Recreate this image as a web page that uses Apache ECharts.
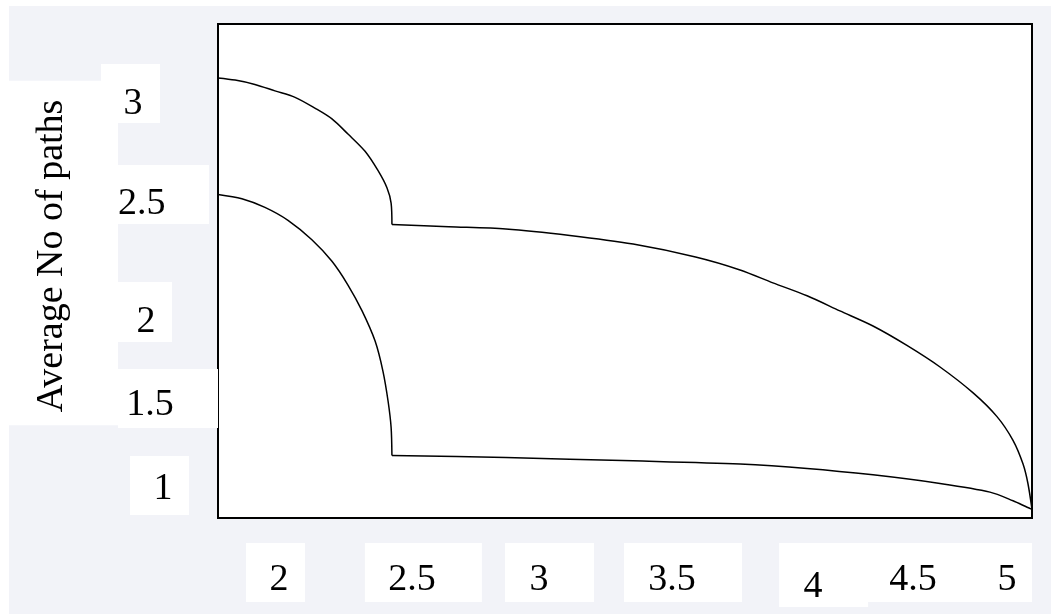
<!DOCTYPE html>
<html>
<head>
<meta charset="utf-8">
<title>Average No of paths</title>
<script src="https://cdn.jsdelivr.net/npm/echarts@6/dist/echarts.min.js"></script>
<style>
  html, body { margin: 0; padding: 0; background: #fff; }
  #chart {
    width: 1051px; height: 614px;
    background: linear-gradient(#f2f3f8, #f2f3f8) 9px 6px / 100% 100% no-repeat, #fff;
  }
</style>
</head>
<body>
<div id="chart"></div>
<script>
// upper curve: steep arc, then the slow tail
var upperArcX = [2.000, 2.063, 2.136, 2.210, 2.284, 2.357, 2.420, 2.479, 2.542, 2.590, 2.623, 2.638, 2.641];
var upperArcY = [3.00, 2.99, 2.97, 2.94, 2.91, 2.86, 2.81, 2.74, 2.66, 2.57, 2.49, 2.42, 2.32];
var upperTailX = [2.641, 2.850, 3.061, 3.297, 3.530, 3.760, 3.924, 4.045, 4.171, 4.292, 4.414, 4.539, 4.661, 4.783, 4.871, 4.930, 4.967, 4.985, 5.000];
var upperTailY = [2.32, 2.31, 2.30, 2.27, 2.23, 2.17, 2.11, 2.05, 1.99, 1.92, 1.85, 1.76, 1.66, 1.54, 1.43, 1.32, 1.21, 1.12, 1.00];
// lower curve
var lowerArcX = [2.000, 2.088, 2.173, 2.258, 2.346, 2.420, 2.479, 2.531, 2.579, 2.608, 2.627, 2.638, 2.641];
var lowerArcY = [2.46, 2.44, 2.40, 2.34, 2.25, 2.15, 2.04, 1.92, 1.78, 1.64, 1.50, 1.38, 1.25];
var lowerTailX = [2.641, 3.061, 3.530, 3.924, 4.171, 4.414, 4.661, 4.845, 4.930, 4.982, 5.000];
var lowerTailY = [1.25, 1.24, 1.225, 1.21, 1.19, 1.16, 1.12, 1.08, 1.04, 1.01, 1.00];

// tick labels, and where the picture puts them on each axis
var xTickLabels = ['2', '2.5', '3', '3.5', '4', '4.5', '5'];
var xTickAt = [2.212, 2.757, 3.222, 3.714, 4.232, 4.569, 4.871];
var yTickLabels = ['3', '2.5', '2', '1.5', '1'];
var yTickAt = [2.928, 2.46, 1.915, 1.514, 1.111];

var FONT = '"Liberation Serif", "Times New Roman", serif';

// white boxes behind the labels (padding: top, right, bottom, left)
var xBoxPad = [[18.5, 16.5, 2.5, 23.5], [18.5, 46.25, 2.5, 23.25], [18.5, 45.5, 2.5, 24.5], [18.5, 46.25, 2.5, 24.25],
               [25.5, 45.5, 0.5, 24.5], [18.5, 25.25, 2.5, 21.25], [18.5, 15.5, 2.5, 35.5]];
var yBoxPad = [[21, 17.5, 0, 22.5], [20.5, 43.5, 0.5, 0], [21.5, 16.5, 0.5, 18.5], [17.5, 44.25, 3.5, 8.25], [14.5, 16.5, 6.5, 23.5]];
var yGap = [58, 9, 46, 0, 29];

function nearest(arr, v) {
  var best = 0;
  for (var i = 1; i < arr.length; i++) {
    if (Math.abs(arr[i] - v) < Math.abs(arr[best] - v)) best = i;
  }
  return best;
}

function pairs(xs, ys) {
  return xs.map(function (x, i) { return [x, ys[i]]; });
}

function curve(xs, ys) {
  return {
    type: 'line',
    data: pairs(xs, ys),
    showSymbol: false,
    smooth: 0.3,
    lineStyle: { color: '#000', width: 1.5 },
    itemStyle: { color: '#000' }
  };
}

var xRich = {}, yRich = {};
xBoxPad.forEach(function (p, i) {
  xRich['x' + i] = { backgroundColor: '#fff', padding: p, fontSize: 38, fontFamily: FONT, color: '#000' };
});
yBoxPad.forEach(function (p, i) {
  yRich['y' + i] = { backgroundColor: '#fff', padding: p, fontSize: 38, fontFamily: FONT, color: '#000' };
  yRich['g' + i] = { width: yGap[i], fontSize: 10 };
});

var myChart = echarts.init(document.getElementById('chart'), null, { renderer: 'canvas' });

var option = {
  animation: false,
  backgroundColor: 'transparent',
  grid: {
    left: 218,
    top: 24,
    right: 19,
    bottom: 96,
    outerBoundsMode: 'none',
    show: true,
    backgroundColor: '#fff',
    borderColor: '#000',
    borderWidth: 2
  },
  xAxis: {
    type: 'value',
    min: 2,
    max: 5,
    axisLine: { show: false },
    axisTick: { show: false },
    splitLine: { show: false },
    axisLabel: {
      customValues: xTickAt,
      margin: 25,
      fontSize: 38,
      fontFamily: FONT,
      color: '#000',
      rich: xRich,
      formatter: function (v) {
        var i = nearest(xTickAt, v);
        return '{x' + i + '|' + xTickLabels[i] + '}';
      }
    }
  },
  yAxis: {
    type: 'value',
    min: 0.96,
    max: 3.25,
    name: '{s| }{b|Average No of paths}',
    nameLocation: 'middle',
    nameRotate: 90,
    nameGap: 100,
    nameMoveOverlap: false,
    nameTextStyle: {
      fontSize: 38,
      fontFamily: FONT,
      color: '#000',
      rich: {
        s: { width: 36, fontSize: 10 },
        b: { backgroundColor: '#fff', padding: [24, 19, 47, 13], fontSize: 38, fontFamily: FONT, color: '#000' }
      }
    },
    axisLine: { show: false },
    axisTick: { show: false },
    splitLine: { show: false },
    axisLabel: {
      customValues: yTickAt,
      margin: 0,
      fontSize: 38,
      fontFamily: FONT,
      color: '#000',
      rich: yRich,
      formatter: function (v) {
        var i = nearest(yTickAt, v);
        return '{y' + i + '|' + yTickLabels[i] + '}' + (yGap[i] ? '{g' + i + '| }' : '');
      }
    }
  },
  series: [
    curve(upperArcX, upperArcY),
    curve(upperTailX, upperTailY),
    curve(lowerArcX, lowerArcY),
    curve(lowerTailX, lowerTailY)
  ]
};

option && myChart.setOption(option);
</script>
</body>
</html>
